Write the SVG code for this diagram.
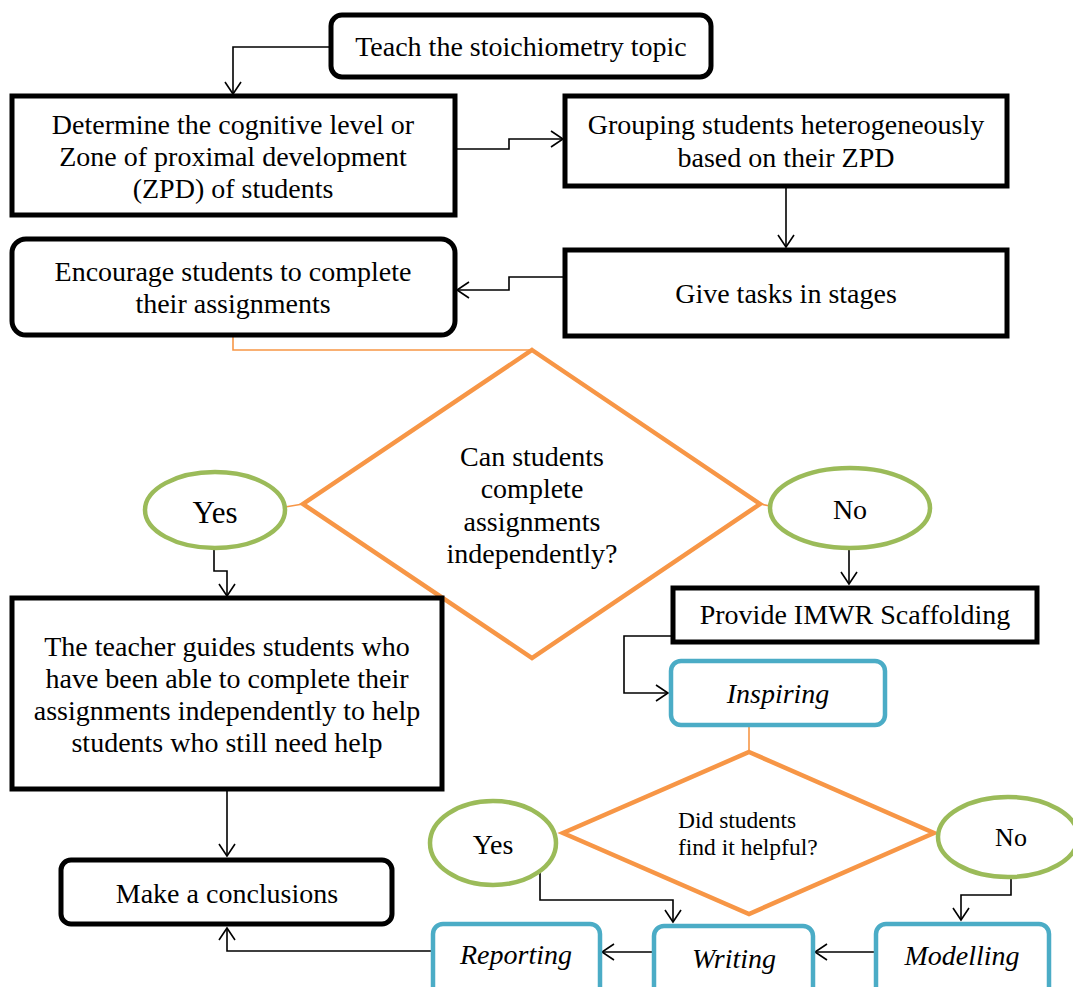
<svg xmlns="http://www.w3.org/2000/svg" width="1073" height="987" viewBox="0 0 1073 987">
<style>
text{font-family:'Liberation Serif','Times New Roman',serif;font-size:28px;fill:#000;text-anchor:middle}
.it{font-style:italic}
.bk{fill:#fff;stroke:#000;stroke-width:5}
.bl{fill:#fff;stroke:#4BACC6;stroke-width:4.5}
.dm{fill:#fff;stroke:#F79646;stroke-width:4.5}
.el{fill:#fff;stroke:#9BBB59;stroke-width:4.5}
.c{fill:none;stroke:#000;stroke-width:1.6}
.o{fill:none;stroke:#F79646;stroke-width:1.6}
</style>
<defs>
<marker id="a" markerUnits="userSpaceOnUse" markerWidth="16" markerHeight="18" refX="13" refY="9" orient="auto">
<path d="M1,1 L13,9 L1,17" fill="none" stroke="#000" stroke-width="1.6"/>
</marker>
</defs>
<g id="connectors">
<polyline class="c" points="330,47 233,47 233,94" marker-end="url(#a)"/>
<polyline class="c" points="456,149 509,149 509,139 563,139" marker-end="url(#a)"/>
<polyline class="c" points="786,187 786,247" marker-end="url(#a)"/>
<polyline class="c" points="563,277 509,277 509,290 457,290" marker-end="url(#a)"/>
<polyline class="o" points="233,336 233,350 529,350 529,365"/>
<line class="o" x1="285" y1="507" x2="303" y2="504"/>
<line class="o" x1="760" y1="504" x2="770" y2="506"/>
<polyline class="c" points="214,548 214,571 227,571 227,596" marker-end="url(#a)"/>
<polyline class="c" points="849,548 849,584" marker-end="url(#a)"/>
<polyline class="c" points="672,636 624,636 624,693 668,693" marker-end="url(#a)"/>
<line class="o" x1="749" y1="726" x2="749" y2="752"/>
<polyline class="c" points="540,866 540,900 673,900 673,922" marker-end="url(#a)"/>
<polyline class="c" points="1011,872 1011,895 961,895 961,920" marker-end="url(#a)"/>
<polyline class="c" points="874,952 815,952" marker-end="url(#a)"/>
<polyline class="c" points="653,952 602,952" marker-end="url(#a)"/>
<polyline class="c" points="432,951 227,951 227,928" marker-end="url(#a)"/>
<polyline class="c" points="227,790 227,856" marker-end="url(#a)"/>
</g>
<g id="teach">
<rect class="bk" x="331" y="15" width="380" height="62" rx="11"/>
<text x="521" y="56">Teach the stoichiometry topic</text>
</g>
<g id="determine">
<rect class="bk" x="12" y="96" width="443" height="119"/>
<text x="233" y="134">Determine the cognitive level or</text>
<text x="233" y="166">Zone of proximal development</text>
<text x="233" y="198">(ZPD) of students</text>
</g>
<g id="grouping">
<rect class="bk" x="565" y="96" width="442" height="90"/>
<text x="786" y="134">Grouping students heterogeneously</text>
<text x="786" y="167">based on their ZPD</text>
</g>
<g id="encourage">
<rect class="bk" x="12" y="239" width="443" height="96" rx="14"/>
<text x="233" y="281">Encourage students to complete</text>
<text x="233" y="313">their assignments</text>
</g>
<g id="give">
<rect class="bk" x="565" y="250" width="442" height="86"/>
<text x="786" y="303">Give tasks in stages</text>
</g>
<g id="decision1">
<polygon class="dm" points="532,350 760,504 532,658 303,504"/>
<text x="532" y="466">Can students</text>
<text x="532" y="498">complete</text>
<text x="532" y="531">assignments</text>
<text x="532" y="563">independently?</text>
</g>
<g id="yes1">
<ellipse class="el" cx="215" cy="510" rx="70" ry="38"/>
<text x="215" y="523" style="font-size:31px">Yes</text>
</g>
<g id="no1">
<ellipse class="el" cx="850" cy="508" rx="80" ry="40"/>
<text x="850" y="519">No</text>
</g>
<g id="teacher">
<rect class="bk" x="12" y="598" width="430" height="191"/>
<text x="227" y="656">The teacher guides students who</text>
<text x="227" y="688">have been able to complete their</text>
<text x="227" y="720">assignments independently to help</text>
<text x="227" y="752">students who still need help</text>
</g>
<g id="conclusions">
<rect class="bk" x="61" y="860" width="331" height="64" rx="10"/>
<text x="227" y="903">Make a conclusions</text>
</g>
<g id="provide">
<rect class="bk" x="673" y="588" width="364" height="54"/>
<text x="855" y="624">Provide IMWR Scaffolding</text>
</g>
<g id="inspiring">
<rect class="bl" x="671" y="661" width="214" height="64" rx="10"/>
<text class="it" x="778" y="703">Inspiring</text>
</g>
<g id="decision2">
<polygon class="dm" points="749,752 934,833 749,914 563,833"/>
<text x="678" y="828" style="font-size:23.5px;text-anchor:start">Did students</text>
<text x="678" y="855" style="font-size:23.5px;text-anchor:start">find it helpful?</text>
</g>
<g id="yes2">
<ellipse class="el" cx="493" cy="843" rx="63" ry="42"/>
<text x="493" y="854">Yes</text>
</g>
<g id="no2">
<ellipse class="el" cx="1008" cy="837" rx="70" ry="40"/>
<text x="1011" y="846" style="font-size:26px">No</text>
</g>
<g id="reporting">
<rect class="bl" x="433" y="924" width="167" height="75" rx="10"/>
<text class="it" x="516" y="964">Reporting</text>
</g>
<g id="writing">
<rect class="bl" x="654" y="926" width="159" height="75" rx="10"/>
<text class="it" x="734" y="968">Writing</text>
</g>
<g id="modelling">
<rect class="bl" x="876" y="924" width="173" height="75" rx="10"/>
<text class="it" x="962" y="965">Modelling</text>
</g>
</svg>
